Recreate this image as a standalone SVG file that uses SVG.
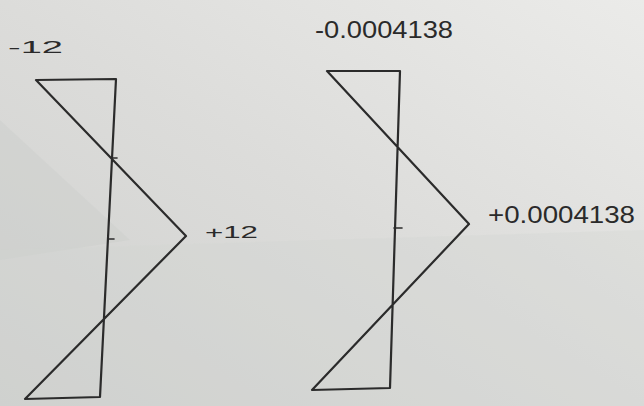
<svg xmlns="http://www.w3.org/2000/svg" width="644" height="406" viewBox="0 0 644 406">
<defs>
<linearGradient id="paper" x1="0" y1="1" x2="1" y2="0">
<stop offset="0" stop-color="#cfd0ce"/>
<stop offset="0.5" stop-color="#dcdcda"/>
<stop offset="1" stop-color="#ebebe9"/>
</linearGradient>
<style>
.ln{fill:none;stroke:#2b2b2b;stroke-width:2.2;stroke-linecap:round;stroke-linejoin:round}
.tk{fill:none;stroke:#2b2b2b;stroke-width:1.6;stroke-linecap:round}
.lb{font-family:"Liberation Sans",Arial,sans-serif;fill:#2a2a2a}
</style>
</defs>
<rect width="644" height="406" fill="url(#paper)"/>
<polygon points="0,120 130,240 0,260" fill="#c9cac8" opacity="0.35"/>
<polygon points="0,250 644,230 644,406 0,406" fill="#d2d3d1" opacity="0.3"/>
<g id="figure-left">
<path class="ln" d="M36,80 L116,79 L100,397 L25,399 L186,236 Z"/>
<line class="tk" x1="108" y1="239" x2="114" y2="239"/>
<line class="tk" x1="112" y1="158" x2="117" y2="158"/>
<text class="lb" x="8" y="53" font-size="17" textLength="55" lengthAdjust="spacingAndGlyphs">-12</text>
<text class="lb" x="205" y="238" font-size="16" textLength="53" lengthAdjust="spacingAndGlyphs">+12</text>
</g>
<g id="figure-right">
<path class="ln" d="M327,71 L400,71 L390,388 L312,390 L469,224 Z"/>
<line class="tk" x1="394" y1="228" x2="402" y2="228"/>
<text class="lb" x="315" y="38" font-size="24" textLength="138" lengthAdjust="spacingAndGlyphs">-0.0004138</text>
<text class="lb" x="488" y="223" font-size="24" textLength="147" lengthAdjust="spacingAndGlyphs">+0.0004138</text>
</g>
</svg>
